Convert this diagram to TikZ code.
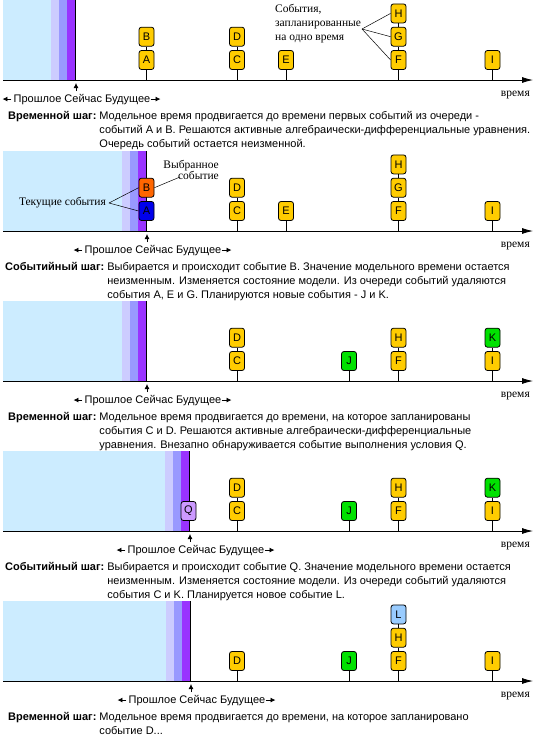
\documentclass[tikz,border=0pt]{standalone}
\usepackage{fontspec}
\setmainfont{Liberation Sans}
\newfontfamily\serifru{Liberation Serif}
\usetikzlibrary{positioning,arrows.meta,calc}

\definecolor{pastA}{RGB}{204,236,255}
\definecolor{pastB}{RGB}{204,204,255}
\definecolor{pastC}{RGB}{153,153,255}
\definecolor{pastD}{RGB}{153,51,255}
\definecolor{evYellow}{RGB}{255,204,0}
\definecolor{evOrange}{RGB}{255,102,0}
\definecolor{evBlue}{RGB}{0,0,235}
\definecolor{evGreen}{RGB}{0,225,0}
\definecolor{evLilac}{RGB}{204,153,255}
\definecolor{evSky}{RGB}{153,204,255}

\tikzset{
  ev/.style={draw=black, line width=0.8pt, rounded corners=2.5pt, minimum width=15pt,
    minimum height=19pt, inner sep=0pt, font=\fontsize{11}{11}\selectfont},
  evy/.style={ev, fill=evYellow},
  evo/.style={ev, fill=evOrange},
  evb/.style={ev, fill=evBlue},
  evg/.style={ev, fill=evGreen},
  evq/.style={ev, fill=evLilac},
  evl/.style={ev, fill=evSky},
  stem/.style={line width=0.8pt},
  axisline/.style={line width=0.8pt, -{Latex[length=11pt,width=6pt]}},
  nowarrow/.style={line width=0.8pt, -{Latex[length=5pt,width=5pt]}},
  sidearrow/.style={line width=0.8pt, -{Latex[length=5pt,width=5pt]}},
  note/.style={font=\serifru\fontsize{11.5}{14}\selectfont, inner sep=0pt},
  pointer/.style={line width=0.5pt},
  steptext/.style={font=\fontsize{11}{14}\selectfont, inner sep=0pt, anchor=base west},
  nowtext/.style={font=\fontsize{11}{11}\selectfont, inner sep=0pt},
}

% one time line: name, x of now, y of the axis
\newcommand{\timeband}[3]{%
  % the past
  \fill[pastA] (3,#3-80) rectangle (#2-24,#3);
  \fill[pastB] (#2-24,#3-80) rectangle (#2-16,#3);
  \fill[pastC] (#2-16,#3-80) rectangle (#2-8,#3);
  \fill[pastD] (#2-8,#3-80) rectangle (#2,#3);
  \coordinate (top#1) at (#2,#3-80);
  \coordinate (ax#1) at (3,#3);
  \coordinate (end#1) at (533,#3);
  \draw[line width=0.8pt] (top#1) -- (top#1 |- ax#1);
  % time axis
  \draw[axisline] (ax#1) -- (end#1);
  \node[note, anchor=base east] (vr#1) at (530,#3+16) {время};
  % now
  \coordinate (nowtip#1) at (#2+1,#3+3);
  \coordinate (nowtail#1) at (#2+1,#3+11);
  \draw[nowarrow] (nowtail#1) -- (nowtip#1);
  \node[nowtext, anchor=base] (pnf#1) at (#2+7,#3+22) {Прошлое Сейчас Будущее};
  \coordinate (past#1) at ($(pnf#1.west)+(-11,0)$);
  \coordinate (fut#1) at ($(pnf#1.east)+(10,0)$);
  \draw[sidearrow] ($(pnf#1.west)+(-2,0)$) -- (past#1);
  \draw[sidearrow] (pnf#1.east) -- (fut#1);
}

\begin{document}
\begin{tikzpicture}[x=1pt,y=-1pt]
\useasboundingbox (0,0) rectangle (538,739);

% ---- time step
\timeband{1}{75}{80}
\node[evy] (A1) at (146.5,60) {A};
\node[evy, above=3.5pt of A1] (B1) {B};
\node[evy] (C1) at (237,60) {C};
\node[evy, above=3.5pt of C1] (D1) {D};
\node[evy] (E1) at (286,60) {E};
\node[evy] (F1) at (398.5,60) {F};
\node[evy, above=3.5pt of F1] (G1) {G};
\node[evy, above=3.5pt of G1] (H1) {H};
\node[evy] (I1) at (492.5,60) {I};
\foreach \n in {A1,C1,E1,F1,I1} \draw[stem] (\n) -- (\n |- ax1);
\draw[stem] (A1) -- (B1);
\draw[stem] (C1) -- (D1);
\draw[stem] (F1) -- (G1);
\draw[stem] (G1) -- (H1);

% events at the same time
\node[note, anchor=north west, align=left] (same1) at (275,4) {События,\\запланированные\\на одно время};
\coordinate (fork1) at (362,29);
\foreach \n in {H1,G1,F1} \draw[pointer] (fork1) -- (\n.west);

\node[steptext] (st1) at (8,119) {\begin{tabular}[t]{@{}l@{\hspace{3pt}}l@{}}
  \textbf{Временной шаг:} & Модельное время продвигается до времени первых событий из очереди -\\
  & событий A и B. Решаются активные алгебраически-дифференциальные уравнения.\\
  & Очередь событий остается неизменной.
\end{tabular}};

% ---- event step
\timeband{2}{146}{231}
\node[evb] (A2) at (146.5,211) {A};
\node[evo, above=3.5pt of A2] (B2) {B};
\node[evy] (C2) at (237,211) {C};
\node[evy, above=3.5pt of C2] (D2) {D};
\node[evy] (E2) at (286,211) {E};
\node[evy] (F2) at (398.5,211) {F};
\node[evy, above=3.5pt of F2] (G2) {G};
\node[evy, above=3.5pt of G2] (H2) {H};
\node[evy] (I2) at (492.5,211) {I};
\foreach \n in {C2,E2,F2,I2} \draw[stem] (\n) -- (\n |- ax2);
\draw[stem] (C2) -- (D2);
\draw[stem] (F2) -- (G2);
\draw[stem] (G2) -- (H2);

% chosen and current events
\node[note, anchor=north east, align=right, font=\serifru\fontsize{11.5}{11}\selectfont] (chosen2) at (219,160) {Выбранное\\событие};
\coordinate (chosenptr2) at (180,177);
\draw[pointer] (B2.east) -- (chosenptr2);
\node[note, anchor=east] (cur2) at (106,203) {Текущие события};
\coordinate (curptr2) at ($(cur2.east)+(3,0)$);
\draw[pointer] (curptr2) -- (B2.west);
\draw[pointer] (curptr2) -- (A2.west);

\node[steptext] (st2) at (5,270) {\begin{tabular}[t]{@{}l@{\hspace{3pt}}l@{}}
  \textbf{Событийный шаг:} & Выбирается и происходит событие B. Значение модельного времени остается\\
  & неизменным. Изменяется состояние модели. Из очереди событий удаляются\\
  & события A, E и G. Планируются новые события - J и K.
\end{tabular}};

% ---- time step
\timeband{3}{146}{381}
\node[evy] (C3) at (237,361) {C};
\node[evy, above=3.5pt of C3] (D3) {D};
\node[evg] (J3) at (349,361) {J};
\node[evy] (F3) at (398.5,361) {F};
\node[evy, above=3.5pt of F3] (H3) {H};
\node[evy] (I3) at (492.5,361) {I};
\node[evg, above=3.5pt of I3] (K3) {K};
\foreach \n in {C3,J3,F3,I3} \draw[stem] (\n) -- (\n |- ax3);
\draw[stem] (C3) -- (D3);
\draw[stem] (F3) -- (H3);
\draw[stem] (I3) -- (K3);

\node[steptext] (st3) at (8,420) {\begin{tabular}[t]{@{}l@{\hspace{3pt}}l@{}}
  \textbf{Временной шаг:} & Модельное время продвигается до времени, на которое запланированы\\
  & события C и D. Решаются активные алгебраически-дифференциальные\\
  & уравнения. Внезапно обнаруживается событие выполнения условия Q.
\end{tabular}};

% ---- event step
\timeband{4}{189}{531}
\node[evq] (Q4) at (188.5,511) {Q};
\node[evy] (C4) at (237,511) {C};
\node[evy, above=3.5pt of C4] (D4) {D};
\node[evg] (J4) at (349,511) {J};
\node[evy] (F4) at (398.5,511) {F};
\node[evy, above=3.5pt of F4] (H4) {H};
\node[evy] (I4) at (492.5,511) {I};
\node[evg, above=3.5pt of I4] (K4) {K};
\foreach \n in {C4,J4,F4,I4} \draw[stem] (\n) -- (\n |- ax4);
\draw[stem] (C4) -- (D4);
\draw[stem] (F4) -- (H4);
\draw[stem] (I4) -- (K4);

\node[steptext] (st4) at (5,570) {\begin{tabular}[t]{@{}l@{\hspace{3pt}}l@{}}
  \textbf{Событийный шаг:} & Выбирается и происходит событие Q. Значение модельного времени остается\\
  & неизменным. Изменяется состояние модели. Из очереди событий удаляются\\
  & события C и K. Планируется новое событие L.
\end{tabular}};

% ---- time step
\timeband{5}{190}{681}
\node[evy] (D5) at (237,661) {D};
\node[evg] (J5) at (349,661) {J};
\node[evy] (F5) at (398.5,661) {F};
\node[evy, above=3.5pt of F5] (H5) {H};
\node[evl, above=3.5pt of H5] (L5) {L};
\node[evy] (I5) at (492.5,661) {I};
\foreach \n in {D5,J5,F5,I5} \draw[stem] (\n) -- (\n |- ax5);
\draw[stem] (F5) -- (H5);
\draw[stem] (H5) -- (L5);

\node[steptext] (st5) at (8,720) {\begin{tabular}[t]{@{}l@{\hspace{3pt}}l@{}}
  \textbf{Временной шаг:} & Модельное время продвигается до времени, на которое запланировано\\
  & событие D...
\end{tabular}};
\end{tikzpicture}
\end{document}
